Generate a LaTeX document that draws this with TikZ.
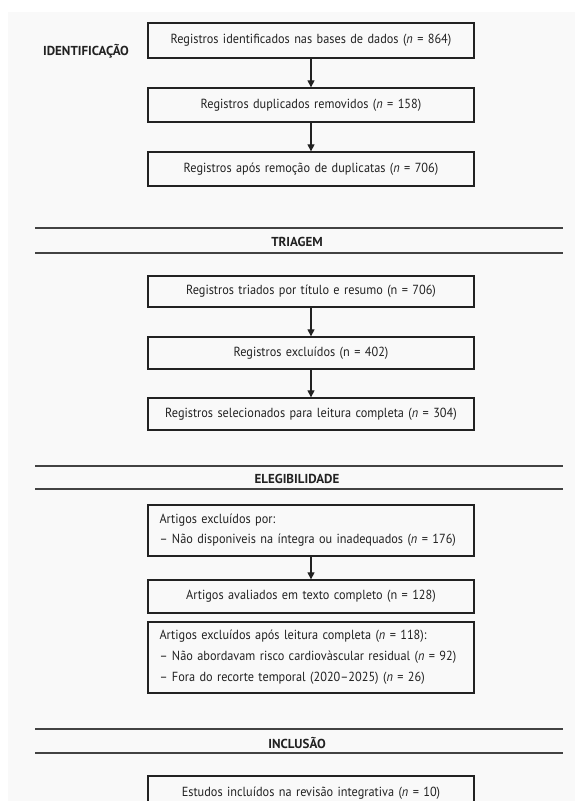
\documentclass[tikz,border=0pt]{standalone}
\usepackage{fontspec}
\setmainfont{PT Sans}[FakeStretch=0.93]
\newfontfamily\fasefont{PT Sans}
\usetikzlibrary{arrows.meta}

\definecolor{paper}{HTML}{F9F9F9}
\definecolor{ink}{HTML}{222222}

\begin{document}
\begin{tikzpicture}[x=1pt,y=-1pt,
	caixa/.style={draw=ink,line width=1.3pt,fill=paper,minimum width=326pt,text width=303pt,
		inner xsep=11.5pt,inner ysep=0pt,align=center,text=ink,font=\fontsize{13.2}{20}\selectfont},
	lista/.style={caixa,align=left},
	fase/.style={font=\fasefont\bfseries\fontsize{13}{15}\selectfont,text=ink},
	seta/.style={-{Triangle[length=7pt,width=7pt]},line width=1.1pt,draw=ink},
	regua/.style={line width=1.3pt,draw=ink!85}]
\clip (0,0) rectangle (575,801);
\fill[white] (0,0) rectangle (575,801);
\fill[paper] (8,12) rectangle (575,801);

% identificacao
\node[fase] (lbIdent) at (86,51) {IDENTIFICAÇÃO};
\node[caixa,minimum height=35pt] (b1) at (311,40.5) {Registros identificados nas bases de dados (\textit{n} = 864)};
\node[caixa,minimum height=34pt] (b2) at (311,105) {Registros duplicados removidos (\textit{n} = 158)};
\node[caixa,minimum height=34pt] (b3) at (311,169) {Registros após remoção de duplicatas (\textit{n} = 706)};
\draw[seta] (b1) -- (b2);
\draw[seta] (b2) -- (b3);

% triagem
\coordinate (t1a) at (35,228); \coordinate (t1b) at (563,228);
\coordinate (t2a) at (35,253); \coordinate (t2b) at (563,253);
\draw[regua] (t1a) -- (t1b);
\draw[regua] (t2a) -- (t2b);
\node[fase] (lbTriagem) at (297,242) {TRIAGEM};
\node[caixa,minimum height=31pt] (b4) at (311,291.5) {Registros triados por título e resumo (n = 706)};
\node[caixa,minimum height=32pt] (b5) at (311,353) {Registros excluídos (n = 402)};
\node[caixa,minimum height=32pt] (b6) at (311,414) {Registros selecionados para leitura completa (\textit{n} = 304)};
\draw[seta] (b4) -- (b5);
\draw[seta] (b5) -- (b6);

% elegibilidade
\coordinate (e1a) at (35,466); \coordinate (e1b) at (563,466);
\coordinate (e2a) at (35,489); \coordinate (e2b) at (563,489);
\draw[regua] (e1a) -- (e1b);
\draw[regua] (e2a) -- (e2b);
\node[fase] (lbEleg) at (297,479) {ELEGIBILIDADE};
\node[lista,minimum height=51pt] (b7) at (311,530.5) {Artigos excluídos por:\\
	– Não disponiveis na íntegra ou inadequados (\textit{n} = 176)};
\node[caixa,minimum height=33pt] (b8) at (311,596.5) {Artigos avaliados em texto completo (n = 128)};
\node[lista,minimum height=71pt,font=\fontsize{13.2}{21}\selectfont] (b9) at (311,657.5) {Artigos excluídos após leitura completa (\textit{n} = 118):\\
	– Não abordavam risco cardiovàscular residual (\textit{n} = 92)\\
	– Fora do recorte temporal (2020–2025) (\textit{n} = 26)};
\draw[seta] (b7) -- (b8);

% inclusao
\coordinate (i1a) at (35,729); \coordinate (i1b) at (563,729);
\coordinate (i2a) at (35,753); \coordinate (i2b) at (563,753);
\draw[regua] (i1a) -- (i1b);
\draw[regua] (i2a) -- (i2b);
\node[fase] (lbInclusao) at (297,743) {INCLUSÃO};
\node[caixa,minimum height=34pt] (b10) at (311,793) {Estudos incluídos na revisão integrativa (\textit{n} = 10)};
\end{tikzpicture}
\end{document}
